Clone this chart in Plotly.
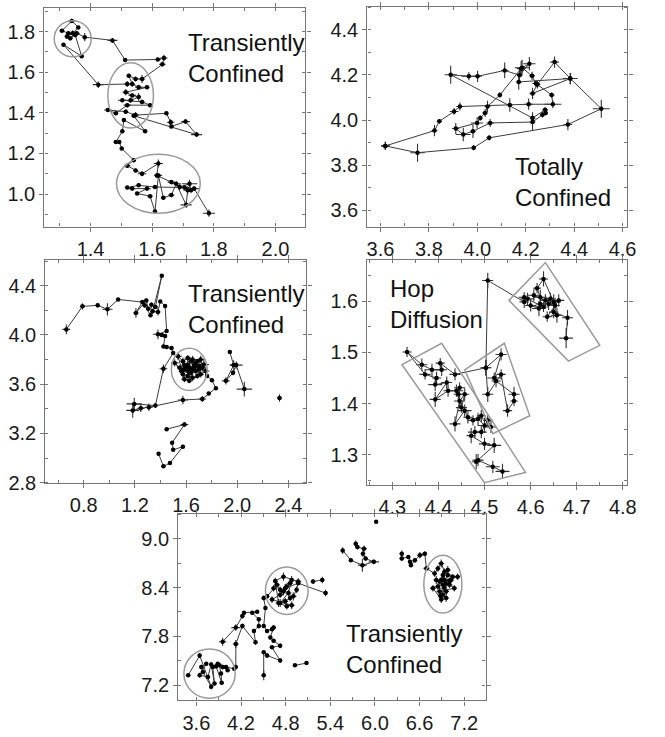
import plotly.graph_objects as go

# ---------------- Panel 1 (Transiently Confined) ----------------
p1_x = [1.519,1.425,1.312,1.371,1.350,1.328,1.307,1.339,1.360,1.342,
        1.323,1.334,1.355,1.381,1.471,1.512,1.618,1.638,1.633,1.567,
        1.546,1.524,1.535,1.556,1.583,1.514,1.535,1.556,1.530,1.503,
        1.567,1.593,1.519,1.482,1.456,1.514,1.546,1.646,1.660,1.662,
        1.708,1.744,1.540,1.577,1.508,1.503,1.482,1.493,1.501,1.540,
        1.519,1.546,1.567,1.620,1.615,1.662,1.689,1.721,1.726,1.705,
        1.609,1.556,1.519,1.535,1.583,1.551,1.593,1.609,1.620,1.636,
        1.662,1.678,1.710,1.715,1.736,1.784]
p1_y = [1.542,1.539,1.736,1.679,1.784,1.792,1.805,1.853,1.821,1.792,
        1.776,1.768,1.792,1.773,1.757,1.660,1.663,1.670,1.639,1.567,
        1.567,1.583,1.542,1.526,1.526,1.502,1.486,1.478,1.462,1.462,
        1.454,1.438,1.438,1.398,1.414,1.406,1.389,1.398,1.354,1.333,
        1.357,1.293,1.386,1.309,1.365,1.309,1.257,1.257,1.225,1.167,
        1.140,1.116,1.100,1.151,1.092,1.059,1.035,1.051,1.019,1.032,
        1.035,1.043,1.032,1.027,1.027,1.003,0.990,0.914,1.092,0.982,
        0.995,1.051,0.947,1.019,1.027,0.906]
p1_ex = [0.010,0.018,0.006,0.008,0.006,0.008,0.008,0.010,0.006,0.012,
         0.006,0.008,0.010,0.006,0.016,0.005,0.010,0.012,0.010,0.010,
         0.010,0.008,0.010,0.012,0.008,0.010,0.012,0.008,0.010,0.014,
         0.008,0.006,0.012,0.008,0.012,0.008,0.010,0.006,0.012,0.008,
         0.014,0.018,0.008,0.006,0.006,0.005,0.008,0.006,0.005,0.006,
         0.010,0.008,0.014,0.015,0.008,0.012,0.010,0.025,0.012,0.015,
         0.010,0.008,0.008,0.010,0.012,0.006,0.008,0.006,0.012,0.008,
         0.010,0.015,0.018,0.014,0.015,0.020]
p1_ey = [0.015,0.016,0.008,0.010,0.012,0.008,0.006,0.010,0.008,0.015,
         0.010,0.012,0.012,0.020,0.012,0.006,0.008,0.016,0.010,0.020,
         0.012,0.010,0.015,0.012,0.010,0.015,0.010,0.020,0.012,0.010,
         0.012,0.008,0.010,0.010,0.008,0.012,0.015,0.008,0.015,0.010,
         0.012,0.012,0.010,0.008,0.010,0.008,0.008,0.008,0.006,0.010,
         0.012,0.010,0.012,0.020,0.012,0.010,0.015,0.020,0.012,0.010,
         0.010,0.008,0.008,0.010,0.010,0.008,0.008,0.010,0.010,0.008,
         0.010,0.012,0.015,0.020,0.012,0.018]
p1_ell_cx = [1.342, 1.530, 1.620]
p1_ell_cy = [1.765, 1.486, 1.051]
p1_ell_rx = [0.060, 0.074, 0.136]
p1_ell_ry = [0.089, 0.161, 0.145]

# ---------------- Panel 2 (Totally Confined) ----------------
p2_x = [3.620,3.823,3.843,3.904,3.928,4.134,4.212,4.312,4.307,4.242,
        4.226,4.185,4.215,4.174,4.113,4.001,3.965,3.890,4.228,4.280,
        4.282,4.269,4.228,4.053,3.982,3.942,3.911,3.999,4.012,4.032,
        4.042,4.093,4.181,4.171,4.384,4.319,4.248,4.228,4.384,4.512,
        4.374,4.049,3.985,3.753,3.620]
p2_y = [3.885,3.953,3.994,4.038,4.060,4.067,4.070,4.070,4.111,4.162,
        4.196,4.232,4.250,4.199,4.220,4.194,4.194,4.201,4.009,4.045,
        4.031,4.023,3.991,3.987,3.950,3.936,3.962,3.987,4.009,4.031,
        4.060,4.111,4.228,4.169,4.184,4.257,4.158,4.118,4.184,4.050,
        3.980,3.921,3.877,3.855,3.885]
p2_ex = [0.018,0.012,0.010,0.018,0.015,0.012,0.018,0.035,0.012,0.015,
         0.012,0.030,0.025,0.010,0.015,0.018,0.030,0.025,0.012,0.012,
         0.010,0.010,0.012,0.015,0.012,0.030,0.015,0.025,0.010,0.012,
         0.012,0.010,0.018,0.012,0.030,0.018,0.012,0.012,0.025,0.035,
         0.018,0.012,0.010,0.030,0.018]
p2_ey = [0.018,0.025,0.010,0.015,0.018,0.030,0.025,0.018,0.012,0.015,
         0.018,0.035,0.030,0.035,0.035,0.025,0.018,0.040,0.025,0.012,
         0.010,0.012,0.035,0.018,0.030,0.030,0.025,0.025,0.012,0.018,
         0.025,0.012,0.035,0.035,0.025,0.025,0.018,0.025,0.025,0.040,
         0.025,0.012,0.012,0.040,0.018]

# ---------------- Panel 3 (Transiently Confined) ----------------
p3a_x = [0.664,0.790,0.909,0.985,1.069,1.258,1.208,1.289,1.304,1.276,
         1.322,1.329,1.360,1.410,1.339,1.380,1.398,1.436,1.448,1.380,
         1.410,1.436,1.423,1.448,1.486,1.499,1.423,1.360,1.195,1.183,
         1.246,1.309,1.575,1.727,1.777,1.833,1.802,1.764,1.752,1.714,
         1.676,1.638,1.600,1.562,1.511,1.549,1.587,1.625,1.663,1.701,
         1.739,1.689,1.651,1.613,1.575,1.537,1.587,1.625,1.663,1.613,
         1.638,1.676,1.714,1.727,1.689,1.651,1.613,1.575,1.600,1.650,
         1.620,1.580,1.670,1.700]
p3a_y = [4.045,4.232,4.240,4.208,4.288,4.267,4.179,4.280,4.213,4.240,
         4.160,4.245,4.227,4.480,4.192,4.187,4.272,4.235,4.032,4.005,
         4.000,3.992,3.907,3.901,3.893,3.853,3.725,3.427,3.440,3.387,
         3.405,3.413,3.472,3.480,3.525,3.568,3.632,3.667,3.707,3.680,
         3.707,3.693,3.720,3.707,3.773,3.733,3.755,3.733,3.760,3.747,
         3.760,3.787,3.800,3.813,3.787,3.827,3.640,3.627,3.733,3.760,
         3.787,3.773,3.800,3.733,3.667,3.653,3.667,3.680,3.740,3.720,
         3.700,3.720,3.750,3.720]
p3a_ex = [0.030,0.020,0.015,0.040,0.010,0.020,0.020,0.015,0.015,0.020,
          0.010,0.015,0.020,0.010,0.015,0.020,0.010,0.015,0.010,0.040,
          0.015,0.010,0.010,0.010,0.015,0.010,0.030,0.015,0.060,0.050,
          0.030,0.030,0.040,0.030,0.010,0.010,0.010,0.015,0.030,0.025,
          0.020,0.030,0.025,0.020,0.030,0.020,0.025,0.030,0.020,0.025,
          0.040,0.020,0.030,0.025,0.020,0.030,0.025,0.020,0.030,0.020,
          0.025,0.020,0.030,0.025,0.020,0.030,0.025,0.020,0.030,0.020,
          0.025,0.030,0.020,0.025]
p3a_ey = [0.040,0.025,0.020,0.050,0.010,0.015,0.040,0.015,0.020,0.020,
          0.010,0.020,0.015,0.010,0.020,0.030,0.010,0.015,0.010,0.040,
          0.015,0.010,0.010,0.010,0.015,0.010,0.035,0.020,0.050,0.060,
          0.030,0.030,0.035,0.025,0.010,0.010,0.010,0.015,0.030,0.025,
          0.030,0.020,0.030,0.025,0.030,0.020,0.030,0.025,0.030,0.030,
          0.040,0.020,0.030,0.025,0.030,0.030,0.025,0.020,0.030,0.030,
          0.025,0.030,0.030,0.025,0.020,0.030,0.025,0.030,0.030,0.020,
          0.025,0.030,0.020,0.025]
p3b_x = [1.942,1.972,1.911,1.967,1.992,2.055]
p3b_y = [3.861,3.755,3.627,3.693,3.755,3.560]
p3b_ex = [0.010,0.030,0.030,0.015,0.050,0.060]
p3b_ey = [0.010,0.040,0.030,0.020,0.030,0.060]
p3c_x = [1.448,1.587,1.491,1.499,1.575,1.474,1.423,1.385]
p3c_y = [3.235,3.272,3.125,3.067,3.093,2.960,2.933,3.035]
p3c_ex = [0.010,0.030,0.010,0.010,0.010,0.010,0.010,0.010]
p3c_ey = [0.010,0.020,0.010,0.010,0.015,0.010,0.010,0.010]
p3d_x = [2.330]
p3d_y = [3.488]
p3d_ex = [0.020]
p3d_ey = [0.030]
p3_ell_cx = [1.625]
p3_ell_cy = [3.720]
p3_ell_rx = [0.140]
p3_ell_ry = [0.172]

# ---------------- Panel 4 (Hop Diffusion) ----------------
p4_x = [4.677,4.680,4.650,4.657,4.636,4.661,4.650,4.628,4.614,4.621,
        4.643,4.632,4.607,4.653,4.639,4.621,4.618,4.600,4.628,4.593,
        4.586,4.586,4.507,4.503,4.536,4.521,4.525,4.564,4.564,4.550,
        4.536,4.507,4.503,4.436,4.404,4.407,4.386,4.364,4.332,4.371,
        4.396,4.393,4.418,4.393,4.421,4.439,4.446,4.443,4.450,4.457,
        4.446,4.436,4.457,4.464,4.475,4.493,4.486,4.500,4.514,4.507,
        4.493,4.479,4.471,4.500,4.521,4.482,4.486,4.518,4.539]
p4_y = [1.528,1.568,1.579,1.573,1.570,1.602,1.599,1.644,1.626,1.608,
        1.605,1.602,1.612,1.592,1.595,1.595,1.586,1.592,1.589,1.605,
        1.608,1.599,1.641,1.470,1.496,1.450,1.444,1.418,1.405,1.386,
        1.457,1.418,1.470,1.457,1.479,1.466,1.466,1.476,1.501,1.457,
        1.450,1.437,1.441,1.408,1.425,1.425,1.431,1.418,1.392,1.418,
        1.405,1.360,1.386,1.373,1.367,1.376,1.370,1.357,1.354,1.367,
        1.344,1.344,1.337,1.321,1.318,1.286,1.289,1.276,1.267]
p4_ex = [0.015,0.012,0.010,0.012,0.010,0.012,0.015,0.010,0.008,0.015,
         0.012,0.010,0.015,0.010,0.012,0.010,0.015,0.012,0.010,0.015,
         0.012,0.010,0.012,0.010,0.012,0.015,0.010,0.012,0.008,0.010,
         0.010,0.012,0.012,0.012,0.010,0.012,0.015,0.012,0.010,0.012,
         0.010,0.015,0.012,0.012,0.010,0.015,0.012,0.010,0.012,0.010,
         0.012,0.012,0.015,0.010,0.012,0.010,0.012,0.015,0.012,0.010,
         0.012,0.015,0.010,0.012,0.015,0.010,0.012,0.015,0.015]
p4_ey = [0.020,0.015,0.012,0.015,0.010,0.012,0.015,0.015,0.010,0.015,
         0.012,0.012,0.012,0.010,0.012,0.010,0.015,0.012,0.010,0.012,
         0.010,0.012,0.015,0.015,0.012,0.010,0.012,0.015,0.010,0.012,
         0.010,0.015,0.015,0.012,0.010,0.012,0.012,0.012,0.010,0.010,
         0.012,0.012,0.012,0.015,0.012,0.012,0.010,0.012,0.010,0.012,
         0.012,0.015,0.012,0.012,0.010,0.012,0.012,0.015,0.012,0.010,
         0.012,0.012,0.015,0.012,0.015,0.015,0.012,0.012,0.015]
# rotated confinement boxes (corner coordinates in data units)
p4_box_x = [[4.321,4.407,4.589,4.500],
            [4.457,4.543,4.598,4.518],
            [4.553,4.632,4.750,4.682]]
p4_box_y = [[1.476,1.518,1.265,1.245],
            [1.466,1.518,1.376,1.341],
            [1.602,1.676,1.514,1.483]]

# ---------------- Panel 5 (Transiently Confined) ----------------
p5a_x = [3.490,3.644,3.799,3.688,3.666,3.733,3.644,3.755,3.799,3.843,
         3.821,3.887,3.865,3.940,3.931,3.909,3.953,4.020,3.998,4.108,
         4.130,4.130,4.218,4.395,4.373,4.439,4.439,4.351,4.417,4.240,
         4.218,4.130,3.953]
p5a_y = [7.321,7.564,7.180,7.362,7.422,7.463,7.321,7.301,7.455,7.220,
         7.422,7.463,7.431,7.228,7.342,7.443,7.422,7.382,7.422,7.402,
         7.422,7.706,7.928,7.726,7.867,7.928,8.009,8.090,8.102,8.090,
         8.049,7.908,7.734]
p5a_ex = [0.03,0.02,0.02,0.03,0.02,0.02,0.02,0.03,0.02,0.03,
          0.02,0.03,0.02,0.03,0.02,0.03,0.04,0.02,0.03,0.03,
          0.02,0.04,0.03,0.02,0.02,0.02,0.02,0.03,0.02,0.02,
          0.03,0.06,0.05]
p5a_ey = [0.02,0.03,0.03,0.02,0.03,0.02,0.03,0.02,0.03,0.03,
          0.02,0.02,0.03,0.02,0.03,0.02,0.03,0.02,0.02,0.02,
          0.02,0.05,0.03,0.03,0.02,0.03,0.03,0.02,0.02,0.02,
          0.03,0.04,0.05]
p5b_x = [4.505,4.505,4.550,4.726,4.616,4.726,4.638,4.594,4.638,4.616,
         4.550,4.505,4.528,4.505,4.550,4.638,4.682,4.726,4.770,4.815,
         4.859,4.881,4.837,4.726,4.793,4.859,4.903,4.947,4.969,4.770,
         4.660,4.704,4.815,4.881,4.616,4.726,4.793,4.969,5.336]
p5b_y = [7.321,7.604,7.564,7.503,7.665,7.685,7.746,7.787,7.908,7.888,
         7.867,7.928,8.150,8.272,8.292,8.393,8.434,8.373,8.353,8.413,
         8.454,8.494,8.333,8.211,8.231,8.272,8.292,8.373,8.474,8.535,
         8.482,8.211,8.171,8.183,8.252,8.312,8.393,8.454,8.333]
p5b_ex = [0.03,0.02,0.03,0.02,0.03,0.02,0.03,0.02,0.03,0.02,
          0.02,0.03,0.02,0.03,0.02,0.03,0.04,0.03,0.04,0.03,
          0.04,0.03,0.04,0.03,0.04,0.03,0.04,0.03,0.04,0.03,
          0.03,0.04,0.03,0.04,0.03,0.04,0.03,0.02,0.03]
p5b_ey = [0.06,0.02,0.03,0.03,0.02,0.03,0.02,0.03,0.03,0.02,
          0.02,0.02,0.02,0.03,0.03,0.04,0.05,0.04,0.05,0.04,
          0.04,0.05,0.04,0.05,0.04,0.04,0.05,0.04,0.04,0.05,
          0.04,0.05,0.04,0.05,0.04,0.04,0.05,0.02,0.04]
p5c_x = [4.925,5.080]
p5c_y = [7.443,7.471]
p5c_ex = [0.01,0.01]
p5c_ey = [0.01,0.01]
p5d_x = [5.168,5.292]
p5d_y = [8.474,8.494]
p5d_ex = [0.03,0.03]
p5d_ey = [0.03,0.04]
p5e_x = [5.566,5.676,5.831,5.985,5.875,5.839,5.853,5.764,5.742]
p5e_y = [8.858,8.737,8.676,8.717,8.757,8.818,8.879,8.899,8.939]
p5e_ex = [0.01,0.01,0.06,0.07,0.03,0.03,0.04,0.03,0.03]
p5e_ey = [0.04,0.01,0.08,0.03,0.03,0.04,0.04,0.03,0.04]
p5f_x = [6.016]
p5f_y = [9.210]
p5f_ex = [0.0]
p5f_ey = [0.0]
p5g_x = [6.361,6.361,6.449,6.471,6.484,6.537,6.604,6.670,6.692,6.802,
         6.846,6.891,6.935,6.979,7.045,7.111,6.869,6.824,6.913,7.001,
         7.067,6.869,6.913,6.957,6.891,6.780,6.935,7.023,6.846,6.957,
         6.913,6.979,6.930,6.950,6.900,7.000,6.880]
p5g_y = [8.818,8.757,8.778,8.717,8.676,8.737,8.798,8.818,8.636,8.575,
         8.636,8.697,8.596,8.555,8.535,8.535,8.474,8.494,8.434,8.434,
         8.393,8.353,8.312,8.272,8.252,8.393,8.494,8.494,8.413,8.353,
         8.555,8.616,8.400,8.450,8.500,8.480,8.300]
p5g_ex = [0.03,0.03,0.02,0.02,0.02,0.03,0.04,0.03,0.04,0.03,
          0.03,0.04,0.03,0.05,0.04,0.03,0.03,0.04,0.03,0.04,
          0.03,0.04,0.03,0.04,0.03,0.04,0.03,0.04,0.03,0.04,
          0.03,0.04,0.03,0.04,0.03,0.04,0.03]
p5g_ey = [0.04,0.03,0.02,0.02,0.02,0.03,0.04,0.03,0.03,0.04,
          0.04,0.05,0.04,0.04,0.03,0.04,0.04,0.05,0.04,0.04,
          0.04,0.05,0.04,0.05,0.04,0.04,0.05,0.04,0.04,0.05,
          0.04,0.05,0.04,0.04,0.05,0.04,0.05]
p5_ell_cx = [3.777, 4.815, 6.913]
p5_ell_cy = [7.342, 8.361, 8.442]
p5_ell_rx = [0.345, 0.287, 0.256]
p5_ell_ry = [0.303, 0.291, 0.356]

labels = ["Transiently<br>Confined", "Totally<br>Confined", "Transiently<br>Confined",
          "Hop<br>Diffusion", "Transiently<br>Confined"]

# ---------------- figure ----------------
FONT = "Liberation Sans, Arial, sans-serif"
LINE_C = "#3c3c3c"
ERR_C = "#333333"
SHAPE_C = "#9a9a9a"
AX_C = "#777777"

fig = go.Figure()


def add_track(xs, ys, exs, eys, ax):
    fig.add_trace(go.Scatter(
        x=xs, y=ys, mode="lines+markers", xaxis="x" + ax, yaxis="y" + ax,
        line=dict(color=LINE_C, width=1),
        marker=dict(color="black", size=4.5),
        error_x=dict(type="data", array=exs, color=ERR_C, thickness=1.1, width=0),
        error_y=dict(type="data", array=eys, color=ERR_C, thickness=1.1, width=0),
        showlegend=False, hoverinfo="skip"))


add_track(p1_x, p1_y, p1_ex, p1_ey, "")
add_track(p2_x, p2_y, p2_ex, p2_ey, "2")
add_track(p3a_x, p3a_y, p3a_ex, p3a_ey, "3")
add_track(p3b_x, p3b_y, p3b_ex, p3b_ey, "3")
add_track(p3c_x, p3c_y, p3c_ex, p3c_ey, "3")
add_track(p3d_x, p3d_y, p3d_ex, p3d_ey, "3")
add_track(p4_x, p4_y, p4_ex, p4_ey, "4")
add_track(p5a_x, p5a_y, p5a_ex, p5a_ey, "5")
add_track(p5b_x, p5b_y, p5b_ex, p5b_ey, "5")
add_track(p5c_x, p5c_y, p5c_ex, p5c_ey, "5")
add_track(p5d_x, p5d_y, p5d_ex, p5d_ey, "5")
add_track(p5e_x, p5e_y, p5e_ex, p5e_ey, "5")
add_track(p5f_x, p5f_y, p5f_ex, p5f_ey, "5")
add_track(p5g_x, p5g_y, p5g_ex, p5g_ey, "5")

shapes = []


def add_ellipses(cx, cy, rx, ry, ax):
    for a, b, r1, r2 in zip(cx, cy, rx, ry):
        shapes.append(dict(type="circle", xref="x" + ax, yref="y" + ax,
                           x0=a - r1, x1=a + r1, y0=b - r2, y1=b + r2,
                           line=dict(color=SHAPE_C, width=1.5)))


add_ellipses(p1_ell_cx, p1_ell_cy, p1_ell_rx, p1_ell_ry, "")
add_ellipses(p3_ell_cx, p3_ell_cy, p3_ell_rx, p3_ell_ry, "3")
add_ellipses(p5_ell_cx, p5_ell_cy, p5_ell_rx, p5_ell_ry, "5")
for bx, by in zip(p4_box_x, p4_box_y):
    path = "M " + " L ".join(f"{a},{b}" for a, b in zip(bx, by)) + " Z"
    shapes.append(dict(type="path", xref="x4", yref="y4", path=path,
                       line=dict(color=SHAPE_C, width=1.5)))


def axis(dom, rng, t0, dt, mdt, anchor):
    return dict(domain=dom, range=rng, anchor=anchor, tick0=t0, dtick=dt,
                tickformat=".1f", showgrid=False, zeroline=False,
                showline=True, linecolor=AX_C, linewidth=1.3, mirror="allticks",
                ticks="outside", ticklen=4, tickcolor=AX_C, tickwidth=1,
                tickfont=dict(family=FONT, size=20, color="#1a1a1a"),
                minor=dict(dtick=mdt, ticks="inside", ticklen=3, tickcolor=AX_C, showgrid=False),
                fixedrange=True)


W, H = 665, 737
fig.update_layout(
    width=W, height=H, margin=dict(l=0, r=0, t=0, b=0),
    paper_bgcolor="white", plot_bgcolor="white",
    xaxis=axis([0.0662, 0.4647], [1.25, 2.097], 1.4, 0.2, 0.1, "y"),
    yaxis=axis([0.6879, 0.9891], [0.84, 1.917], 1.0, 0.2, 0.1, "x"),
    xaxis2=axis([0.5594, 0.9564], [3.546, 4.62], 3.6, 0.2, 0.1, "y2"),
    yaxis2=axis([0.6879, 0.9905], [3.527, 4.502], 3.6, 0.2, 0.1, "x2"),
    xaxis3=axis([0.0677, 0.4662], [0.50, 2.54], 0.8, 0.4, 0.2, "y3"),
    yaxis3=axis([0.3351, 0.6418], [2.8, 4.608], 2.8, 0.4, 0.2, "x3"),
    xaxis4=axis([0.5594, 0.9564], [4.246, 4.81], 4.3, 0.1, 0.05, "y4"),
    yaxis4=axis([0.3324, 0.6418], [1.241, 1.681], 1.3, 0.1, 0.05, "x4"),
    xaxis5=axis([0.2707, 0.7398], [3.357, 7.487], 3.6, 0.6, 0.3, "y5"),
    yaxis5=axis([0.0353, 0.2917], [7.012, 9.303], 7.2, 0.6, 0.3, "x5"),
    shapes=shapes,
)

ann_pos = [(188, 59), (520, 185), (188, 314), (393, 309), (348, 659)]
for txt, (px, py) in zip(labels, ann_pos):
    fig.add_annotation(text=txt, xref="paper", yref="paper",
                       x=px / W, y=1 - py / H, xanchor="left", yanchor="middle",
                       align="left", showarrow=False,
                       font=dict(family=FONT, size=24, color="#111111"))

fig.write_html("out.html", config={"displayModeBar": False},
               post_script="document.body.style.margin='0';")
